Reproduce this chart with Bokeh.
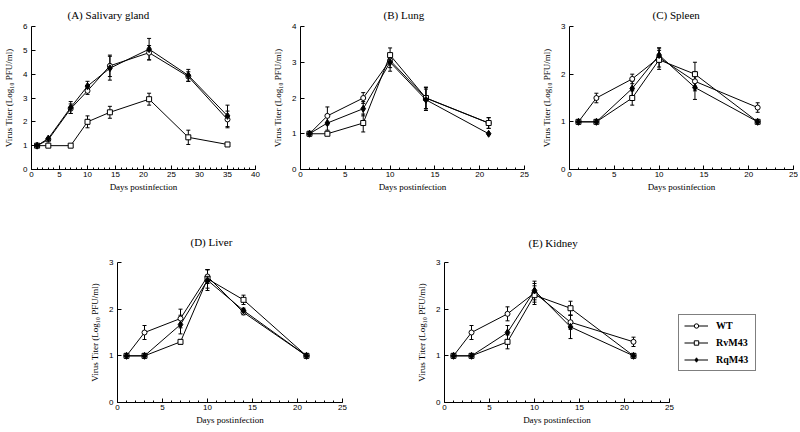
from bokeh.plotting import figure
from bokeh.layouts import row, column
from bokeh.models import (Range1d, SingleIntervalTicker, ColumnDataSource, Whisker, TeeHead,
                          Legend, LegendItem, Spacer, Title)
from bokeh.embed import file_html
from bokeh.resources import INLINE

# ---------------- data ----------------
series_names = ["WT", "RvM43", "RqM43"]

days_A = [1, 3, 7, 10, 14, 21, 28, 35]
A_WT = [1.0, 1.25, 2.55, 3.3, 4.35, 4.9, 3.9, 2.1]
A_WT_err = [0, 0, 0.2, 0.15, 0.45, 0.3, 0.2, 0.35]
A_Rv = [1.0, 1.0, 1.0, 2.0, 2.4, 2.95, 1.35, 1.05]
A_Rv_err = [0, 0, 0, 0.25, 0.25, 0.25, 0.3, 0]
A_Rq = [1.0, 1.3, 2.6, 3.5, 4.25, 5.05, 3.95, 2.25]
A_Rq_err = [0, 0, 0.25, 0.2, 0.5, 0.45, 0.25, 0.45]

days_B = [1, 3, 7, 10, 14, 21]
B_WT = [1.0, 1.5, 2.0, 3.05, 2.0, 1.3]
B_WT_err = [0, 0.25, 0.15, 0.2, 0.3, 0.15]
B_Rv = [1.0, 1.0, 1.3, 3.2, 2.0, 1.3]
B_Rv_err = [0, 0, 0.25, 0.2, 0.3, 0.15]
B_Rq = [1.0, 1.3, 1.7, 3.0, 1.95, 1.0]
B_Rq_err = [0, 0.2, 0.2, 0.25, 0.3, 0]

days_C = [1, 3, 7, 10, 14, 21]
C_WT = [1.0, 1.5, 1.9, 2.35, 1.85, 1.3]
C_WT_err = [0, 0.1, 0.1, 0.2, 0.2, 0.1]
C_Rv = [1.0, 1.0, 1.5, 2.3, 2.0, 1.0]
C_Rv_err = [0, 0, 0.15, 0.2, 0.25, 0]
C_Rq = [1.0, 1.0, 1.7, 2.4, 1.72, 1.0]
C_Rq_err = [0, 0, 0.15, 0.15, 0.25, 0]

days_D = [1, 3, 7, 10, 14, 21]
D_WT = [1.0, 1.5, 1.8, 2.7, 1.93, 1.0]
D_WT_err = [0, 0.15, 0.2, 0.15, 0.05, 0]
D_Rv = [1.0, 1.0, 1.3, 2.65, 2.2, 1.0]
D_Rv_err = [0, 0, 0.05, 0.2, 0.1, 0]
D_Rq = [1.0, 1.0, 1.67, 2.62, 1.97, 1.0]
D_Rq_err = [0, 0, 0.2, 0.22, 0.05, 0]

days_E = [1, 3, 7, 10, 14, 21]
E_WT = [1.0, 1.5, 1.9, 2.35, 1.72, 1.3]
E_WT_err = [0, 0.15, 0.15, 0.2, 0.15, 0.1]
E_Rv = [1.0, 1.0, 1.3, 2.3, 2.02, 1.0]
E_Rv_err = [0, 0, 0.15, 0.2, 0.15, 0]
E_Rq = [1.0, 1.0, 1.5, 2.4, 1.62, 1.0]
E_Rq_err = [0, 0, 0.15, 0.2, 0.25, 0]

titles = ["(A) Salivary gland", "(B) Lung", "(C) Spleen", "(D) Liver", "(E) Kidney"]
x_label = "Days postinfection"
y_label = "Virus Titer (Log\u2081\u2080 PFU/ml)"

SERIF = "Liberation Serif"
SANS = "Liberation Sans"

MARKERS = [("circle", "white", 5), ("square", "white", 5), ("diamond", "black", 7)]


def make_fig(title, xmax, ymax, width, height, left, top, fw, fh, toff, tstand):
    t = Title(text=title, align="left", offset=toff, standoff=tstand, text_font=SERIF,
              text_font_size="11px", text_font_style="normal", text_color="black")
    p = figure(width=width, height=height, x_range=Range1d(0, xmax), y_range=Range1d(0, ymax),
               output_backend="svg", toolbar_location=None, title=t,
               min_border_left=left, min_border_top=top,
               min_border_right=width - left - fw, min_border_bottom=height - top - fh)
    p.outline_line_color = None
    p.background_fill_color = "white"
    p.border_fill_color = "white"
    p.xgrid.visible = False
    p.ygrid.visible = False
    p.xaxis.ticker = SingleIntervalTicker(interval=5, num_minor_ticks=5)
    p.yaxis.ticker = SingleIntervalTicker(interval=1, num_minor_ticks=0)
    for ax in (p.xaxis[0], p.yaxis[0]):
        ax.axis_line_color = "black"
        ax.major_tick_line_color = "black"
        ax.minor_tick_line_color = "black"
        ax.major_tick_in = 4
        ax.major_tick_out = 0
        ax.minor_tick_in = 2
        ax.minor_tick_out = 0
        ax.major_label_text_font = SANS
        ax.major_label_text_font_size = "8px"
        ax.major_label_text_color = "black"
        ax.axis_label_text_font = SERIF
        ax.axis_label_text_font_size = "9px"
        ax.axis_label_text_font_style = "normal"
        ax.axis_label_text_color = "black"
    p.xaxis.major_label_standoff = 2
    p.xaxis.axis_label_standoff = 2
    p.yaxis.major_label_standoff = 4
    p.yaxis.axis_label_standoff = 6
    p.xaxis.axis_label = x_label
    p.yaxis.axis_label = y_label
    return p


def add_series(p, days, vals, errs, marker, fill, size, whiskers=True):
    src = ColumnDataSource(dict(x=days, y=vals))
    if whiskers:
        ex = [d for d, e in zip(days, errs) if e > 0]
        ey_up = [v + e for v, e in zip(vals, errs) if e > 0]
        ey_lo = [v - e for v, e in zip(vals, errs) if e > 0]
        wsrc = ColumnDataSource(dict(x=ex, upper=ey_up, lower=ey_lo))
        w = Whisker(base="x", upper="upper", lower="lower", source=wsrc, line_color="black",
                    line_width=1, level="underlay",
                    upper_head=TeeHead(size=4, line_color="black", line_width=1),
                    lower_head=TeeHead(size=4, line_color="black", line_width=1))
        p.add_layout(w)
    lr = p.line("x", "y", source=src, line_color="black", line_width=1)
    sr = p.scatter("x", "y", source=src, marker=marker, size=size, fill_color=fill,
                   line_color="black", line_width=1)
    return lr, sr


def fill_panel(p, days, wt, wte, rv, rve, rq, rqe, whiskers=True):
    out = []
    for (m, f, s), v, e in zip(MARKERS, [wt, rv, rq], [wte, rve, rqe]):
        out.append(add_series(p, days, v, e, m, f, s, whiskers))
    return out


pA = make_fig(titles[0], 40, 6, 270, 200, 31, 26, 224, 144, 36, 11)
fill_panel(pA, days_A, A_WT, A_WT_err, A_Rv, A_Rv_err, A_Rq, A_Rq_err)
pB = make_fig(titles[1], 25, 4, 269, 200, 30, 26, 224, 144, 83, 11)
fill_panel(pB, days_B, B_WT, B_WT_err, B_Rv, B_Rv_err, B_Rq, B_Rq_err)
pC = make_fig(titles[2], 25, 3, 259, 200, 30, 25, 224, 144, 83, 11)
fill_panel(pC, days_C, C_WT, C_WT_err, C_Rv, C_Rv_err, C_Rq, C_Rq_err)

pD = make_fig(titles[3], 25, 3, 327, 232, 30, 62, 225, 143, 73, 29)
fill_panel(pD, days_D, D_WT, D_WT_err, D_Rv, D_Rv_err, D_Rq, D_Rq_err)
pE = make_fig(titles[4], 25, 3, 264, 232, 30, 59, 225, 143, 84, 27)
fill_panel(pE, days_E, E_WT, E_WT_err, E_Rv, E_Rv_err, E_Rq, E_Rq_err)

# legend panel: the E series are drawn here with a view range that shows none of
# them, so only the legend (which needs renderers of its own plot) is visible
pL = figure(width=113, height=232, x_range=Range1d(100, 101), y_range=Range1d(100, 101),
            output_backend="svg", toolbar_location=None,
            min_border_left=0, min_border_right=0, min_border_top=0, min_border_bottom=0)
pL.axis.visible = False
pL.grid.visible = False
pL.outline_line_color = None
pL.background_fill_color = "white"
pL.border_fill_color = "white"
leg_r = fill_panel(pL, days_E, E_WT, E_WT_err, E_Rv, E_Rv_err, E_Rq, E_Rq_err, whiskers=False)
items = [LegendItem(label=n, renderers=[lr, sr]) for n, (lr, sr) in zip(series_names, leg_r)]
legend = Legend(items=items, location=(0, 31), orientation="vertical",
                border_line_color="black", border_line_width=1,
                background_fill_color="white", background_fill_alpha=1,
                padding=5, spacing=6, margin=0, glyph_width=24, glyph_height=11,
                label_height=11, label_standoff=8, label_width=34,
                label_text_font=SERIF, label_text_font_size="10px",
                label_text_font_style="bold", label_text_color="black")
pL.add_layout(legend, "center")

layout = column(row(pA, pB, pC), row(Spacer(width=87, height=232), pD, pE, pL))

open("out.html", "w").write(file_html(layout, INLINE))
